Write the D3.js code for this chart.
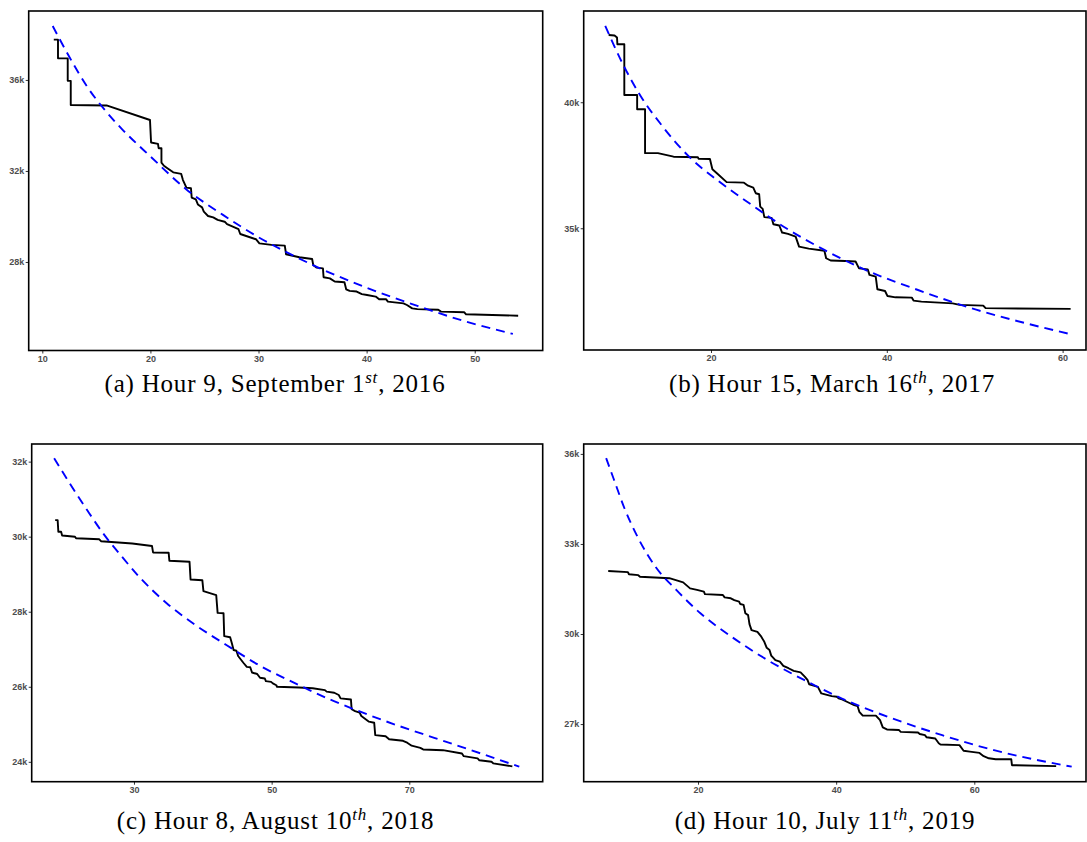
<!DOCTYPE html>
<html>
<head>
<meta charset="utf-8">
<script src="https://cdn.jsdelivr.net/npm/d3@7"></script>
<style>
  body { margin: 0; background: #fff; }
  svg { display: block; }
</style>
</head>
<body>
<div id="chart"></div>
<script>
// values in thousands (y) against x
const aEmpirical = [[11.06,37.77],[11.45,37.77],[11.45,36.95],[12.35,36.95],[12.35,35.96],[12.63,35.96],[12.63,34.9],[15.94,34.88],[19.96,34.24],[20.06,33.25],[20.7,33.19],[20.76,33.0],[21.02,33.0],[21.02,32.37],[21.25,32.23],[21.57,32.12],[22.11,31.94],[22.85,31.87],[23.01,31.6],[23.33,31.27],[23.75,31.24],[23.82,30.83],[24.2,30.75],[24.39,30.53],[24.78,30.4],[24.94,30.21],[25.33,30.02],[25.81,29.96],[26.22,29.85],[26.87,29.77],[27.09,29.66],[28.15,29.44],[28.31,29.23],[29.76,29.0],[30.08,28.82],[31.2,28.75],[32.43,28.72],[32.55,28.34],[33.78,28.21],[34.96,28.13],[35.06,27.87],[35.38,27.75],[35.96,27.72],[36.02,27.33],[36.6,27.28],[37.05,27.14],[37.95,27.11],[38.11,26.8],[38.43,26.73],[39.08,26.7],[39.56,26.59],[40.04,26.55],[40.84,26.48],[41.16,26.36],[41.81,26.36],[41.97,26.26],[43.41,26.18],[43.73,26.11],[44.22,25.96],[44.7,25.93],[46.63,25.9],[46.88,25.82],[49.04,25.79],[49.2,25.7],[54.02,25.64]];
const aFitted = [[10.96,38.37],[12.57,36.95],[14.18,35.68],[15.78,34.68],[17.39,33.83],[20.02,32.63],[23.33,31.19],[26.71,30.07],[29.92,29.11],[32.81,28.38],[36.02,27.65],[39.88,26.89],[44.7,26.07],[49.2,25.38],[53.53,24.84]];

const bEmpirical = [[8.36,42.67],[9.03,42.65],[9.31,42.57],[9.35,42.3],[10.14,42.3],[10.14,40.29],[11.6,40.29],[11.6,39.72],[12.5,39.72],[12.5,37.98],[13.96,37.98],[15.74,37.84],[18.5,37.82],[18.58,37.76],[19.88,37.75],[20.16,37.34],[20.67,37.18],[21.78,36.83],[23.75,36.81],[24.22,36.69],[24.81,36.61],[25.09,36.39],[25.48,36.35],[25.6,35.86],[25.88,35.77],[26.07,35.44],[26.9,35.41],[27.1,35.16],[27.77,35.11],[28.09,34.83],[28.76,34.78],[29.63,34.67],[30.02,34.27],[31.12,34.19],[32.9,34.11],[33.1,33.81],[33.61,33.72],[35.27,33.7],[36.45,33.68],[36.84,33.41],[37.83,33.37],[38.03,33.15],[38.74,33.08],[38.93,32.58],[39.8,32.51],[40.08,32.31],[40.99,32.26],[42.84,32.25],[43.04,32.13],[43.94,32.09],[47.49,32.02],[48.28,31.96],[50.97,31.93],[51.24,31.83],[60.91,31.8]];
const bFitted = [[7.97,43.03],[10.02,41.48],[11.99,40.25],[14.36,39.1],[17.51,37.84],[20.67,36.92],[24.62,35.93],[28.56,35.0],[32.9,34.14],[38.03,33.28],[43.55,32.55],[50.26,31.76],[56.17,31.2],[60.99,30.79]];

const cEmpirical = [[18.55,30.44],[18.91,30.44],[19.01,30.13],[19.41,30.13],[19.56,30.03],[21.43,30.0],[21.58,29.96],[24.96,29.93],[25.21,29.88],[29.75,29.82],[32.62,29.75],[32.77,29.58],[35.04,29.57],[35.14,29.36],[38.07,29.33],[38.22,28.86],[39.93,28.84],[40.09,28.55],[41.95,28.44],[42.15,27.97],[43.01,27.96],[43.11,27.35],[43.97,27.32],[44.22,27.16],[44.47,26.98],[44.88,26.96],[45.13,26.82],[45.89,26.64],[46.39,26.53],[46.89,26.52],[47.15,26.38],[47.9,26.34],[48.31,26.24],[49.01,26.22],[49.16,26.15],[49.92,26.13],[50.17,26.09],[50.68,26.04],[50.78,26.0],[53.95,25.98],[55.97,25.96],[57.74,25.91],[57.99,25.87],[59.1,25.84],[59.75,25.78],[60.01,25.69],[61.52,25.66],[61.62,25.4],[62.12,25.35],[62.78,25.31],[63.03,25.22],[64.14,25.07],[64.9,25.04],[65.05,24.71],[66.56,24.68],[67.07,24.6],[69.08,24.56],[69.69,24.51],[70.34,24.43],[71.6,24.37],[72.01,24.33],[74.88,24.31],[77.65,24.22],[77.91,24.15],[79.92,24.09],[80.18,24.04],[81.94,24.0],[82.19,23.96],[84.97,23.88]];
const cFitted = [[18.4,32.09],[20.67,31.42],[23.19,30.71],[25.71,30.04],[28.23,29.47],[30.76,28.93],[34.79,28.22],[38.82,27.66],[43.36,27.12],[48.41,26.55],[53.45,26.09],[58.49,25.66],[63.54,25.29],[68.58,24.95],[73.62,24.64],[78.66,24.33],[85.98,23.87]];

const dEmpirical = [[7.0,32.1],[9.85,32.06],[10.0,31.99],[11.35,31.96],[11.6,31.91],[15.85,31.86],[17.85,31.72],[18.85,31.52],[19.85,31.47],[20.85,31.41],[21.0,31.33],[23.6,31.3],[23.85,31.22],[24.75,31.19],[25.25,31.13],[25.95,31.08],[26.1,31.0],[26.6,30.97],[26.85,30.69],[27.25,30.63],[27.45,30.33],[27.75,30.13],[28.6,30.07],[29.1,29.93],[29.6,29.74],[29.95,29.54],[30.35,29.47],[30.6,29.28],[31.2,29.13],[31.85,29.08],[32.35,28.94],[33.1,28.86],[33.85,28.77],[34.85,28.72],[35.45,28.58],[35.85,28.47],[36.1,28.32],[37.35,28.24],[37.85,28.02],[39.35,27.93],[40.1,27.91],[40.35,27.86],[40.85,27.82],[41.85,27.71],[42.6,27.63],[43.1,27.6],[43.35,27.41],[43.85,27.28],[45.75,27.28],[46.35,27.13],[46.75,26.89],[47.35,26.82],[49.1,26.8],[49.35,26.74],[51.85,26.72],[52.1,26.67],[52.85,26.63],[53.1,26.56],[54.35,26.52],[54.85,26.36],[55.1,26.32],[57.85,26.3],[58.45,26.11],[59.35,26.08],[60.75,26.04],[61.35,25.93],[62.1,25.86],[63.1,25.83],[65.35,25.83],[65.45,25.63],[71.85,25.6]];
const dFitted = [[6.7,35.86],[7.85,35.13],[9.35,34.19],[11.35,33.19],[13.85,32.24],[16.85,31.47],[20.35,30.69],[24.85,29.91],[29.85,29.16],[35.35,28.47],[41.35,27.8],[47.85,27.21],[55.35,26.63],[62.85,26.13],[74.1,25.58]];

// tick values
const aXTicks = [10, 20, 30, 40, 50], aYTicks = [28, 32, 36];
const bXTicks = [20, 40, 60],         bYTicks = [35, 40];
const cXTicks = [30, 50, 70],         cYTicks = [24, 26, 28, 30, 32];
const dXTicks = [20, 40, 60],         dYTicks = [27, 30, 33, 36];

// captions: [before superscript, superscript, after]
const captions = [
  ["(a) Hour 9, September 1", "st", ", 2016"],
  ["(b) Hour 15, March 16", "th", ", 2017"],
  ["(c) Hour 8, August 10", "th", ", 2018"],
  ["(d) Hour 10, July 11", "th", ", 2019"]
];

const panels = [
  { emp: aEmpirical, fit: aFitted, xt: aXTicks, yt: aYTicks, box: [28.7, 542.7, 11, 350.5], xd: [8.74, 56.29], yd: [24.11, 39.03], cap: captions[0], capX: 275, capY: 392 },
  { emp: bEmpirical, fit: bFitted, xt: bXTicks, yt: bYTicks, box: [583.7, 1086, 11, 350], xd: [5.52, 62.66], yd: [30.17, 43.62], cap: captions[1], capX: 832, capY: 392 },
  { emp: cEmpirical, fit: cFitted, xt: cXTicks, yt: cYTicks, box: [31.7, 542.7, 444, 781.7], xd: [15.14, 89.38], yd: [23.47, 32.47], cap: captions[2], capX: 275.6, capY: 829 },
  { emp: dEmpirical, fit: dFitted, xt: dXTicks, yt: dYTicks, box: [583.7, 1086, 444, 781.7], xd: [3.45, 76.17], yd: [25.08, 36.33], cap: captions[3], capX: 825, capY: 829 }
];

const W = 1087, H = 842;
const svg = d3.select("#chart").append("svg")
  .attr("width", W).attr("height", H);

panels.forEach((p, i) => {
  const [x0, x1, y0, y1] = p.box;
  const x = d3.scaleLinear().domain(p.xd).range([x0, x1]);
  const y = d3.scaleLinear().domain(p.yd).range([y1, y0]);

  const g = svg.append("g");

  g.append("clipPath").attr("id", "clip" + i)
    .append("rect").attr("x", x0).attr("y", y0).attr("width", x1 - x0).attr("height", y1 - y0);

  const line = d3.line().x(d => x(d[0])).y(d => y(d[1]));
  const smooth = d3.line().x(d => x(d[0])).y(d => y(d[1])).curve(d3.curveMonotoneX);

  const plot = g.append("g").attr("clip-path", `url(#clip${i})`);
  plot.append("path").datum(p.emp)
    .attr("d", line)
    .attr("fill", "none").attr("stroke", "#000").attr("stroke-width", 1.9)
    .attr("stroke-linejoin", "round");
  plot.append("path").datum(p.fit)
    .attr("d", smooth)
    .attr("fill", "none").attr("stroke", "#0000ff").attr("stroke-width", 1.9)
    .attr("stroke-dasharray", "9,6");

  // axes
  const xa = g.append("g").attr("transform", `translate(0,${y1})`)
    .call(d3.axisBottom(x).tickValues(p.xt).tickSize(3).tickPadding(2));
  const ya = g.append("g").attr("transform", `translate(${x0},0)`)
    .call(d3.axisLeft(y).tickValues(p.yt).tickFormat(d => d + "k").tickSize(3).tickPadding(1.5));
  [xa, ya].forEach(a => {
    a.select(".domain").remove();
    a.selectAll("line").attr("stroke", "#333");
    a.selectAll("text").attr("fill", "#4d4d4d")
      .style("font-family", "Liberation Sans, Arial, sans-serif")
      .style("font-size", "9px").style("font-weight", "bold");
  });

  // panel border
  g.append("rect")
    .attr("x", x0).attr("y", y0).attr("width", x1 - x0).attr("height", y1 - y0)
    .attr("fill", "none").attr("stroke", "#000").attr("stroke-width", 1.6);

  // caption
  const t = svg.append("text")
    .attr("x", p.capX).attr("y", p.capY)
    .attr("text-anchor", "middle")
    .style("font-family", "Liberation Serif, serif")
    .style("font-size", "25px")
    .style("letter-spacing", "0.8px");
  t.append("tspan").text(p.cap[0]);
  t.append("tspan").text(p.cap[1]).attr("dy", -9).style("font-size", "17px").style("font-style", "italic");
  t.append("tspan").text(p.cap[2]).attr("dy", 9);
});
</script>
</body>
</html>
